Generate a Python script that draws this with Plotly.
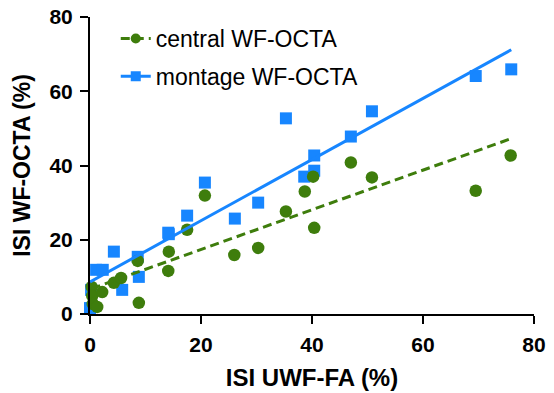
import numpy as np
import plotly.graph_objects as go

# Data
central_x = [0.3, 0.4, 0.5, 1.3, 2.2, 4.3, 5.6, 8.6, 8.8, 14.1, 14.2, 17.5, 20.7,
             26.0, 30.3, 35.3, 38.7, 40.2, 40.4, 47.0, 50.8, 69.5, 75.8]
central_y = [7.3, 4.9, 2.7, 1.9, 5.9, 8.4, 9.7, 14.3, 3.0, 11.6, 16.8, 22.7, 31.9,
             15.9, 17.8, 27.6, 33.0, 37.0, 23.2, 40.8, 36.8, 33.2, 42.7]

montage_x = [0.0, 0.2, 1.1, 2.3, 4.3, 5.8, 8.6, 8.8, 14.1, 14.2, 17.5, 20.7, 26.1,
             30.3, 35.3, 38.6, 40.4, 40.4, 47.0, 50.8, 69.5, 75.9]
montage_y = [1.6, 6.5, 11.9, 11.9, 16.8, 6.5, 15.4, 10.0, 21.9, 21.5, 26.5, 35.4, 25.7,
             30.0, 52.7, 37.0, 42.7, 38.6, 47.8, 54.6, 64.1, 65.9]

series_names = ["central WF-OCTA", "montage WF-OCTA"]
x_ticks = [0, 20, 40, 60, 80]
y_ticks = [0, 20, 40, 60, 80]

GREEN = "#3E7D0C"
BLUE = "#1786FF"
FONT = "Arial, Liberation Sans, Helvetica, sans-serif"


def fit(xs, ys):
    xs = np.asarray(xs, float)
    ys = np.asarray(ys, float)
    m, b = np.polyfit(xs, ys, 1)
    xx = np.array([xs.min(), xs.max()])
    return xx, m * xx + b


fig = go.Figure()

cfx, cfy = fit(central_x, central_y)
mfx, mfy = fit(montage_x, montage_y)

fig.add_trace(go.Scatter(x=montage_x, y=montage_y, mode="markers",
                         marker=dict(symbol="square", size=12, color=BLUE),
                         showlegend=False, cliponaxis=False))
fig.add_trace(go.Scatter(x=central_x, y=central_y, mode="markers",
                         marker=dict(symbol="circle", size=12.5, color=GREEN),
                         showlegend=False, cliponaxis=False))
fig.add_trace(go.Scatter(x=mfx, y=mfy, mode="lines",
                         line=dict(color=BLUE, width=3),
                         showlegend=False, cliponaxis=False))
fig.add_trace(go.Scatter(x=cfx, y=cfy, mode="lines",
                         line=dict(color=GREEN, width=3, dash="9px,5px"),
                         showlegend=False, cliponaxis=False))

# legend entries
fig.add_trace(go.Scatter(x=[None], y=[None], mode="lines+markers", name=series_names[0],
                         line=dict(color=GREEN, width=3, dash="9px,5px"),
                         marker=dict(symbol="circle", size=10, color=GREEN),
                         legendgroup="a"))
fig.add_trace(go.Scatter(x=[None], y=[None], mode="lines+markers", name=series_names[1],
                         line=dict(color=BLUE, width=3),
                         marker=dict(symbol="square", size=10, color=BLUE),
                         legendgroup="b"))

axis_common = dict(
    showline=True, linecolor="black", linewidth=2,
    ticks="outside", ticklen=8, tickwidth=2, tickcolor="black",
    showgrid=False, zeroline=False, automargin=False,
    tickfont=dict(family=FONT, size=21, color="black", weight="bold"),
    range=[0, 80], tickmode="array", ticklabelstandoff=3,
)

fig.update_layout(
    width=554, height=393,
    margin=dict(l=90, r=20, t=17, b=79),
    plot_bgcolor="white", paper_bgcolor="white",
    xaxis=dict(**axis_common, tickvals=x_ticks,
               title=dict(text="ISI UWF-FA (%)", standoff=14,
                          font=dict(family=FONT, size=24, color="black", weight="bold"))),
    yaxis=dict(**axis_common, tickvals=y_ticks,
               title=dict(text="ISI WF-OCTA (%)", standoff=12,
                          font=dict(family=FONT, size=23, color="black", weight="bold"))),
    legend=dict(x=0.058, y=1.0, xanchor="left", yanchor="top",
                font=dict(family=FONT, size=23, color="black"),
                bgcolor="rgba(0,0,0,0)", traceorder="grouped", tracegroupgap=5),
    showlegend=True,
)

fig.write_html("out.html")
